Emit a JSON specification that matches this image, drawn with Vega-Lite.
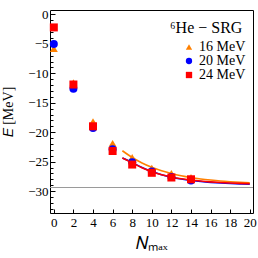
{
  "$schema": "https://vega.github.io/schema/vega-lite/v6.json",
  "width": 203,
  "height": 203,
  "autosize": {"type": "none"},
  "padding": {"left": 50, "top": 10, "right": 5, "bottom": 45},
  "background": "white",
  "config": {
    "view": {"stroke": "black", "strokeWidth": 1},
    "font": "Liberation Serif",
    "axis": {
      "labelFont": "Liberation Serif",
      "labelFontSize": 13,
      "labelColor": "black",
      "titleFont": "Liberation Serif",
      "titleFontWeight": "normal",
      "titleColor": "black",
      "domain": false,
      "grid": false,
      "tickColor": "black",
      "labelOverlap": false,
      "labelFlush": false
    },
    "legend": {
      "titleFont": "Liberation Serif",
      "titleFontSize": 16,
      "titleFontWeight": "normal",
      "titleColor": "black",
      "labelFont": "Liberation Serif",
      "labelFontSize": 14,
      "labelColor": "black",
      "symbolSize": 40,
      "symbolOffset": 12,
      "labelOffset": 3,
      "rowPadding": 0,
      "titlePadding": 4,
      "padding": 0
    }
  },
  "datasets": {
    "ref": [{"E": -29.4}],
    "fit": [
      {"series": "16 MeV", "N": 7, "E": -23.15},
      {"series": "16 MeV", "N": 8, "E": -24.3},
      {"series": "16 MeV", "N": 9, "E": -25.22},
      {"series": "16 MeV", "N": 10, "E": -25.96},
      {"series": "16 MeV", "N": 11, "E": -26.55},
      {"series": "16 MeV", "N": 12, "E": -27.02},
      {"series": "16 MeV", "N": 13, "E": -27.4},
      {"series": "16 MeV", "N": 14, "E": -27.7},
      {"series": "16 MeV", "N": 15, "E": -27.94},
      {"series": "16 MeV", "N": 16, "E": -28.13},
      {"series": "16 MeV", "N": 17, "E": -28.29},
      {"series": "16 MeV", "N": 18, "E": -28.41},
      {"series": "16 MeV", "N": 19, "E": -28.51},
      {"series": "16 MeV", "N": 20, "E": -28.59},
      {"series": "20 MeV", "N": 7, "E": -24.4},
      {"series": "20 MeV", "N": 8, "E": -25.15},
      {"series": "20 MeV", "N": 9, "E": -26.0},
      {"series": "20 MeV", "N": 10, "E": -26.7},
      {"series": "20 MeV", "N": 11, "E": -27.24},
      {"series": "20 MeV", "N": 12, "E": -27.65},
      {"series": "20 MeV", "N": 13, "E": -27.96},
      {"series": "20 MeV", "N": 14, "E": -28.2},
      {"series": "20 MeV", "N": 15, "E": -28.39},
      {"series": "20 MeV", "N": 16, "E": -28.53},
      {"series": "20 MeV", "N": 17, "E": -28.64},
      {"series": "20 MeV", "N": 18, "E": -28.72},
      {"series": "20 MeV", "N": 19, "E": -28.79},
      {"series": "20 MeV", "N": 20, "E": -28.84},
      {"series": "24 MeV", "N": 7, "E": -24.4},
      {"series": "24 MeV", "N": 8, "E": -25.2},
      {"series": "24 MeV", "N": 9, "E": -26.05},
      {"series": "24 MeV", "N": 10, "E": -26.72},
      {"series": "24 MeV", "N": 11, "E": -27.22},
      {"series": "24 MeV", "N": 12, "E": -27.6},
      {"series": "24 MeV", "N": 13, "E": -27.9},
      {"series": "24 MeV", "N": 14, "E": -28.12},
      {"series": "24 MeV", "N": 15, "E": -28.3},
      {"series": "24 MeV", "N": 16, "E": -28.44},
      {"series": "24 MeV", "N": 17, "E": -28.55},
      {"series": "24 MeV", "N": 18, "E": -28.63},
      {"series": "24 MeV", "N": 19, "E": -28.7},
      {"series": "24 MeV", "N": 20, "E": -28.75}
    ],
    "pts": [
      {"series": "16 MeV", "N": 0, "E": -5.8},
      {"series": "16 MeV", "N": 2, "E": -11.6},
      {"series": "16 MeV", "N": 4, "E": -18.2},
      {"series": "16 MeV", "N": 6, "E": -21.9},
      {"series": "16 MeV", "N": 8, "E": -24.3},
      {"series": "16 MeV", "N": 10, "E": -26.1},
      {"series": "16 MeV", "N": 12, "E": -27.0},
      {"series": "16 MeV", "N": 14, "E": -27.7},
      {"series": "20 MeV", "N": 0, "E": -5.0},
      {"series": "20 MeV", "N": 2, "E": -12.6},
      {"series": "20 MeV", "N": 4, "E": -19.3},
      {"series": "20 MeV", "N": 6, "E": -22.9},
      {"series": "20 MeV", "N": 8, "E": -25.1},
      {"series": "20 MeV", "N": 10, "E": -26.7},
      {"series": "20 MeV", "N": 12, "E": -27.6},
      {"series": "20 MeV", "N": 14, "E": -28.2},
      {"series": "24 MeV", "N": 0, "E": -2.2},
      {"series": "24 MeV", "N": 2, "E": -11.9},
      {"series": "24 MeV", "N": 4, "E": -19.0},
      {"series": "24 MeV", "N": 6, "E": -23.2},
      {"series": "24 MeV", "N": 8, "E": -25.5},
      {"series": "24 MeV", "N": 10, "E": -26.9},
      {"series": "24 MeV", "N": 12, "E": -27.7},
      {"series": "24 MeV", "N": 14, "E": -28.0}
    ]
  },
  "encoding": {
    "x": {
      "field": "N",
      "type": "quantitative",
      "scale": {"domain": [-0.39, 20.33], "nice": false, "zero": false},
      "axis": {
        "values": [0, 2, 4, 6, 8, 10, 12, 14, 16, 18, 20],
        "tickSize": -4,
        "labelPadding": 7,
        "title": "𝑁ₘₐₓ",
        "titleFontSize": 17,
        "titlePadding": 6
      }
    },
    "y": {
      "field": "E",
      "type": "quantitative",
      "scale": {"domain": [-33.73, 0.76], "nice": false, "zero": false},
      "axis": {
        "values": [-33, -32, -31, -30, -29, -28, -27, -26, -25, -24, -23, -22, -21, -20, -19, -18, -17, -16, -15, -14, -13, -12, -11, -10, -9, -8, -7, -6, -5, -4, -3, -2, -1, 0],
        "labelExpr": "datum.value % 5 === 0 ? datum.label : ''",
        "tickSize": {"condition": {"test": "datum.value % 5 === 0", "value": -5}, "value": -3},
        "labelPadding": 7,
        "title": "𝐸 [MeV]",
        "titleFontSize": 14,
        "titlePadding": 12
      }
    }
  },
  "layer": [
    {
      "data": {"name": "ref"},
      "mark": {"type": "rule", "color": "#9a9a9a", "strokeWidth": 1},
      "encoding": {"x": null, "y": {"field": "E", "type": "quantitative"}}
    },
    {
      "data": {"name": "fit"},
      "transform": [{"filter": "datum.series === '16 MeV'"}],
      "mark": {"type": "line", "strokeWidth": 1.6, "interpolate": "monotone", "color": "#ff8000"},
      "encoding": {}
    },
    {
      "data": {"name": "fit"},
      "transform": [{"filter": "datum.series === '20 MeV'"}],
      "mark": {"type": "line", "strokeWidth": 1.6, "interpolate": "monotone", "color": "#0000ff"},
      "encoding": {}
    },
    {
      "data": {"name": "fit"},
      "transform": [{"filter": "datum.series === '24 MeV'"}],
      "mark": {"type": "line", "strokeWidth": 1.6, "interpolate": "monotone", "color": "#ff0000"},
      "encoding": {}
    },
    {
      "data": {"name": "pts"},
      "mark": {"type": "point", "filled": true, "opacity": 1, "size": 64},
      "encoding": {
        "color": {
          "field": "series",
          "type": "nominal",
          "scale": {"domain": ["16 MeV", "20 MeV", "24 MeV"], "range": ["#ff8000", "#0000ff", "#ff0000"]},
          "legend": {"title": "⁶He − SRG", "orient": "none", "legendX": 120, "legendY": 10}
        },
        "shape": {
          "field": "series",
          "type": "nominal",
          "scale": {"domain": ["16 MeV", "20 MeV", "24 MeV"], "range": ["triangle-up", "circle", "square"]},
          "legend": {"title": "⁶He − SRG", "orient": "none", "legendX": 120, "legendY": 10}
        }
      }
    }
  ]
}
